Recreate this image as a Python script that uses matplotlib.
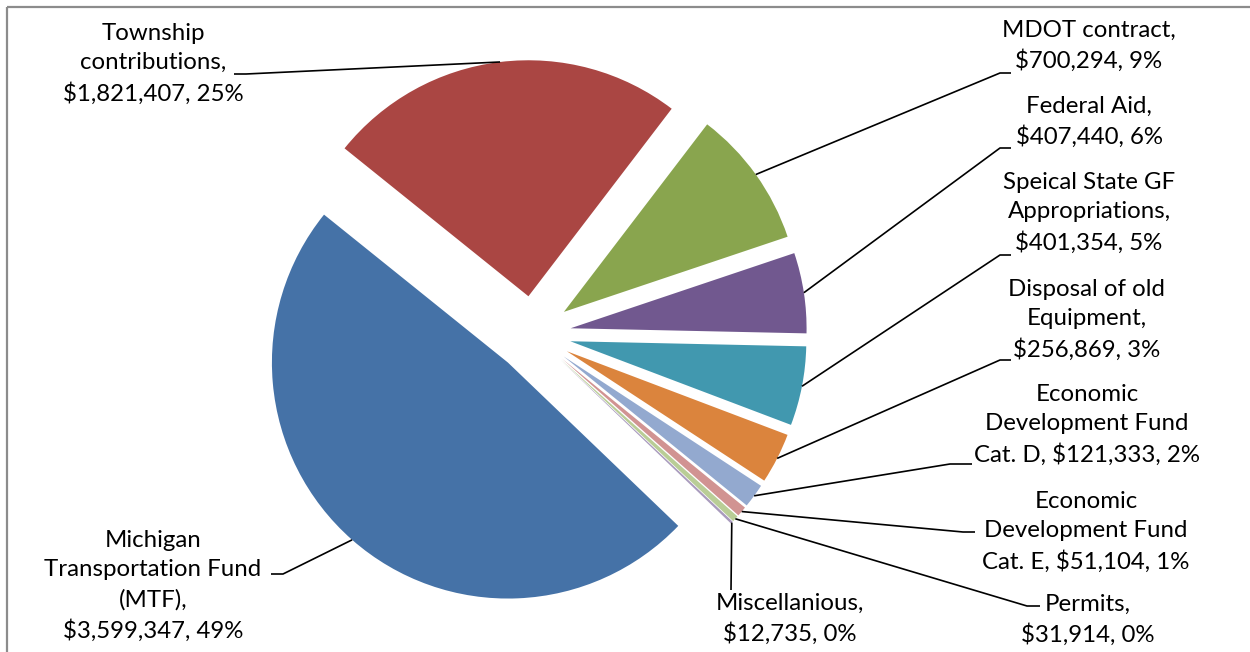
import matplotlib
matplotlib.use("Agg")
import matplotlib.pyplot as plt
import numpy as np

plt.rcParams['font.family'] = ['Lato', 'DejaVu Sans']

# data (series order as in the source sheet)
names = ["Michigan\nTransportation Fund\n(MTF)", "Township\ncontributions", "MDOT contract",
         "Federal Aid", "Speical State GF\nAppropriations", "Disposal of old\nEquipment",
         "Economic\nDevelopment Fund\nCat. D", "Economic\nDevelopment Fund\nCat. E",
         "Permits", "Miscellanious"]
values = [3599347, 1821407, 700294, 407440, 401354, 256869, 121333, 51104, 31914, 12735]
wrap_value = [True, True, True, True, True, True, False, False, True, True]
colors = ["#4572A7", "#AA4643", "#89A54E", "#71588F", "#4198AF", "#DB843D",
          "#93A9CF", "#D19392", "#B9CD96", "#A99BBD"]

W, H = 1250, 652
def Y(y): return H - y

# layout (image pixel coords, y down)
cx, cy, R, gap = 533, 334, 236, 38
text_pos = [(153, 586), (153, 64), (1089, 46), (1089, 122), (1089, 213), (1087, 320),
            (1087, 425), (1086, 532), (1088, 620), (790, 619)]
elbow = [(283, 574), (246, 74), (1000, 73), (1000, 148), (1000, 255), (1000, 360),
         (950, 464), (963, 532), (1027, 606), (731, 590)]
end_x = [271, 234, 1011, 1011, 1011, 1011, 972, 975, 1040, 731]

total = sum(values)
labels = []
for n, v, wv in zip(names, values, wrap_value):
    sep = ",\n" if wv else ", "
    labels.append(f"{n}{sep}${v:,}, {round(100*v/total):.0f}%")

fig = plt.figure(figsize=(12.5, 6.52), dpi=100)
ax = fig.add_axes([0, 0, 1, 1])
# matplotlib explode offsets are in data units here
wedges, _ = ax.pie(values, explode=[gap]*len(values), colors=colors, startangle=-43.8,
                   counterclock=False, radius=R, center=(cx, Y(cy)),
                   wedgeprops=dict(linewidth=0))
ax.set_xlim(0, W); ax.set_ylim(0, H); ax.axis("off")

for w, lab, tp, el, ex in zip(wedges, labels, text_pos, elbow, end_x):
    th = np.deg2rad((w.theta1 + w.theta2) / 2)
    px = w.center[0] + w.r*np.cos(th); py = w.center[1] + w.r*np.sin(th)
    ax.plot([px, el[0], ex], [py, Y(el[1]), Y(el[1])], color="black", lw=1.2,
            solid_capstyle="butt", zorder=3)
    ax.text(tp[0], Y(tp[1]), lab, ha="center", va="center", fontsize=17.3,
            linespacing=1.47, color="black")

# chart frame (left and top edges visible)
ax.plot([7, 7], [0, Y(7)], color="#8c8c8c", lw=1.6, solid_capstyle="butt")
ax.plot([7, W], [Y(7), Y(7)], color="#8c8c8c", lw=1.6, solid_capstyle="butt")

plt.savefig("out.png", dpi=100)
